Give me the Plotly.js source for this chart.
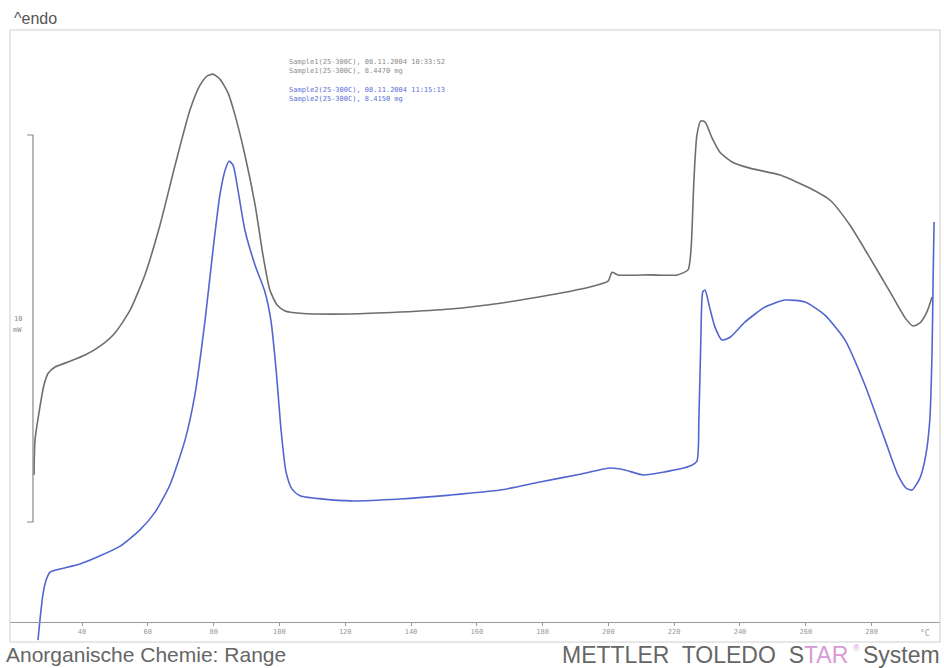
<!DOCTYPE html>
<html>
<head>
<meta charset="utf-8">
<script src="https://cdn.plot.ly/plotly-3.0.1.min.js"></script>
<style>
html,body{margin:0;padding:0;background:#fff;}
#chart{width:944px;height:668px;}
</style>
</head>
<body>
<div id="chart"></div>
<script>
// Temperature (°C) and heat flow (mW)
const sample1T = [25.4,25.7,27.2,28.4,29.7,31.8,36.4,40.9,45.5,50.0,54.6,59.1,63.7,68.3,72.8,75.9,78.0,79.8,81.9,84.4,86.5,89.5,92.6,95.0,97.1,99.3,101.7,106.3,121.5,136.7,151.9,167.1,182.2,194.4,199.9,201.1,202.9,212.6,220.9,224.2,225.1,226.0,226.9,228.1,229.4,231.5,233.9,237.6,243.0,252.2,261.3,267.4,273.4,279.5,285.6,290.2,292.6,294.7,296.8,298.4];
const sample1mW = [3.80,4.70,5.56,6.12,6.43,6.59,6.74,6.90,7.13,7.47,8.06,8.97,10.26,11.81,13.23,13.88,14.11,14.16,14.03,13.67,13.10,12.07,10.78,9.48,8.58,8.19,8.04,7.98,7.96,8.01,8.09,8.24,8.45,8.66,8.81,9.04,8.97,8.97,8.97,9.10,9.61,11.42,12.58,12.95,12.92,12.51,12.14,11.89,11.73,11.55,11.21,10.90,10.26,9.41,8.53,7.86,7.65,7.73,8.01,8.40];

const sample2T = [26.6,27.2,28.1,29.1,30.3,33.3,39.4,45.5,51.6,57.6,62.2,66.7,71.3,74.3,77.4,79.8,81.9,83.5,84.7,85.9,87.4,89.5,92.6,95.6,97.4,99.0,100.5,102.0,103.8,106.3,121.5,136.7,151.9,167.1,179.2,191.4,200.5,205.0,210.5,217.2,224.8,226.9,227.5,228.1,228.7,229.4,230.6,232.4,234.5,237.0,241.5,247.6,253.7,259.8,265.8,271.9,278.0,284.1,288.0,290.5,292.3,294.7,296.5,297.7,298.4,298.7,299.0];
const sample2mW = [-0.47,0.05,0.70,1.09,1.29,1.37,1.50,1.71,1.96,2.38,2.84,3.54,4.70,5.87,7.80,9.61,11.03,11.68,11.91,11.81,11.16,10.13,9.22,8.53,7.80,6.51,4.96,3.88,3.44,3.26,3.13,3.18,3.28,3.41,3.62,3.82,3.98,3.93,3.80,3.88,4.03,4.16,5.22,7.29,8.53,8.58,8.19,7.62,7.29,7.36,7.75,8.14,8.32,8.27,7.93,7.29,6.12,4.70,3.80,3.46,3.41,3.72,4.32,5.22,7.03,8.84,10.34];

const tickVals = [40,60,80,100,120,140,160,180,200,220,240,260,280];
const tickText = ["40","60","80","100","120","140","160","180","200","220","240","260","280"];

const legendLines = [
  "Sample1(25-300C), 08.11.2004 10:33:52",
  "Sample1(25-300C), 8.4470 mg",
  "Sample2(25-300C), 08.11.2004 11:15:13",
  "Sample2(25-300C), 8.4150 mg"
];
const legendColors = ["#8a8a8a","#8a8a8a","#5a6fd6","#5a6fd6"];
const legendY = [0.9477,0.933,0.902,0.887];

const traces = [
  {x: sample1T, y: sample1mW, mode:'lines', line:{color:'#6e6e6e', width:1.6, shape:'spline', smoothing:0.6}, hoverinfo:'skip'},
  {x: sample2T, y: sample2mW, mode:'lines', line:{color:'#5266d2', width:1.6, shape:'spline', smoothing:0.6}, hoverinfo:'skip'}
];

const mainFont = 'Liberation Sans, Arial, sans-serif';
const annotations = [
  {xref:'paper', yref:'paper', x:0.0022, y:1.0196, xanchor:'left', yanchor:'middle', showarrow:false,
   text:'^endo', font:{family:mainFont, size:16, color:'#555'}},
  {xref:'paper', yref:'paper', x:-0.0065, y:-0.0212, xanchor:'left', yanchor:'middle', showarrow:false,
   text:'Anorganische Chemie: Range', font:{family:mainFont, size:21, color:'#666'}},
  {xref:'paper', yref:'paper', x:0.9032, y:-0.0212, xanchor:'right', yanchor:'middle', showarrow:false,
   text:'METTLER  TOLEDO  S<span style="color:#d79ad7">TAR</span>',
   font:{family:mainFont, size:23, color:'#666'}},
  {xref:'paper', yref:'paper', x:0.9097, y:-0.0098, xanchor:'center', yanchor:'middle', showarrow:false,
   text:'®', font:{family:mainFont, size:9, color:'#d79ad7'}},
  {xref:'paper', yref:'paper', x:1.0022, y:-0.0212, xanchor:'right', yanchor:'middle', showarrow:false,
   text:'System', font:{family:mainFont, size:23, color:'#666'}},
  {xref:'paper', yref:'paper', x:0.0086, y:0.527, xanchor:'center', yanchor:'middle', showarrow:false,
   text:'10', font:{family:'DejaVu Sans Mono, monospace', size:7, color:'#888'}},
  {xref:'paper', yref:'paper', x:0.0086, y:0.51, xanchor:'center', yanchor:'middle', showarrow:false,
   text:'mW', font:{family:'DejaVu Sans Mono, monospace', size:7, color:'#888'}},
  {xref:'paper', yref:'paper', x:0.9835, y:0.0147, xanchor:'center', yanchor:'middle', showarrow:false,
   text:'°C', font:{family:'DejaVu Sans Mono, monospace', size:8, color:'#999'}}
];
legendLines.forEach((t,i)=>{
  annotations.push({xref:'paper', yref:'paper', x:0.2978, y:legendY[i], xanchor:'left', yanchor:'middle', showarrow:false,
    text:t, font:{family:'DejaVu Sans Mono, monospace', size:7, color:legendColors[i]}});
});

const shapes = [
  {type:'rect', xref:'paper', yref:'paper', x0:0, x1:1, y0:0, y1:1, line:{color:'#cfcfcf', width:1}},
  // 10 mW scale bracket
  {type:'path', xref:'paper', yref:'paper', path:'M 0.0183 0.8284 L 0.0247 0.8284 L 0.0247 0.1961 L 0.0183 0.1961',
   line:{color:'#8a8a8a', width:1.2}}
];

const layout = {
  width:944, height:668,
  margin:{l:10, r:4, t:30, b:26},
  paper_bgcolor:'#fff', plot_bgcolor:'#fff',
  showlegend:false,
  xaxis:{range:[18.1,300.8], anchor:'free', position:0.0327, showgrid:false, zeroline:false,
         showline:true, linecolor:'#9a9a9a', linewidth:1,
         tickmode:'array', tickvals:tickVals, ticktext:tickText,
         ticks:'outside', ticklen:3, tickcolor:'#9a9a9a',
         tickfont:{family:'DejaVu Sans Mono, monospace', size:7, color:'#999'}},
  yaxis:{range:[-0.517,15.30], visible:false, showgrid:false, zeroline:false},
  annotations:annotations,
  shapes:shapes
};

Plotly.newPlot('chart', traces, layout, {staticPlot:true, displayModeBar:false});
</script>
</body>
</html>
